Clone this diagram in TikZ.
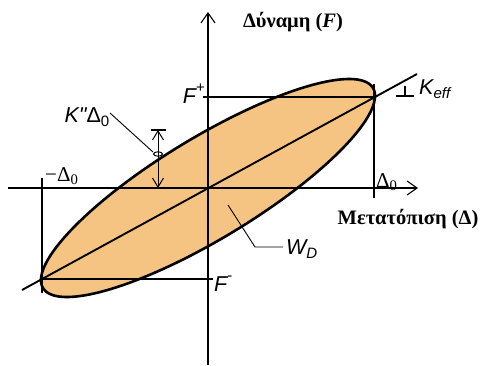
\documentclass[tikz,border=0pt]{standalone}
\usepackage{fontspec}
\setmainfont{Liberation Serif}
\newfontfamily\lsans{Liberation Sans}
\usetikzlibrary{arrows.meta}
\definecolor{loopfill}{RGB}{245,196,130}
\newcommand{\supsym}[1]{\raisebox{0.5em}{\upshape\fontsize{15}{15}\selectfont #1}}
\begin{document}
\begin{tikzpicture}[x=1pt,y=-1pt,
  thin line/.style={line width=1.1pt,black},
  axisline/.style={line width=1.1pt,black,-{Straight Barb[length=10pt,width=14pt,line width=1.1pt]}},
  dimarrow/.style={line width=1.0pt,black,-{Straight Barb[length=9pt,width=11pt,line width=1pt]}},
  loopline/.style={line width=2.6pt,black,fill=loopfill},
  diag/.style={line width=1.9pt,black},
  greeklab/.style={font=\fontsize{20.5}{24}\selectfont\bfseries,inner sep=0pt},
  symlab/.style={font=\lsans\itshape\fontsize{21.5}{24}\selectfont,inner sep=0pt},
  serlab/.style={font=\fontsize{21}{24}\selectfont,inner sep=0pt}]
\useasboundingbox (0,0) rectangle (484,365);
% key coordinates
\coordinate (O) at (208,188);
\coordinate (vbot) at (208,365);
\coordinate (vtop) at (208,12);
\coordinate (hleft) at (8,188);
\coordinate (hright) at (418,188);
\coordinate (P) at (374,97);
\coordinate (N) at (42,279);
\coordinate (dA) at (22,290);
\coordinate (dB) at (417,74);
% loop
\draw[loopline] plot[variable=\t,domain=0:360,samples=181]
  ({208+167*cos(\t)+3*sin(\t)},{188-91*cos(\t)-60*sin(\t)}) -- cycle;
% axes
\draw[thin line] (O) -- (vbot);
\draw[axisline] (O) -- (vtop);
\draw[axisline] (hleft) -- (hright);
% reference lines
\coordinate (dz0t) at (374,84);
\coordinate (dz0b) at (374,198);
\draw[thin line] (dz0t) -- (dz0b);
\coordinate (mdz0t) at (42,178);
\coordinate (mdz0b) at (42,293);
\draw[thin line] (mdz0t) -- (mdz0b);
\coordinate (fpl) at (203,97);
\draw[thin line] (fpl) -- (P);
\coordinate (fmr) at (213,279);
\draw[thin line] (N) -- (fmr);
% effective stiffness line
\draw[diag] (dA) -- (dB);
% slope mark
\coordinate (sm1) at (396,96);
\coordinate (sm2) at (414,96);
\coordinate (sm3) at (405,86);
\coordinate (sm4) at (405,96);
\draw[thin line] (sm1) -- (sm2);
\draw[thin line] (sm3) -- (sm4);
% K'' Delta0 dimension
\coordinate (barL) at (151,130);
\coordinate (barR) at (166,130);
\coordinate (barM) at (158,130);
\coordinate (ovl) at (158,154);
\coordinate (axm) at (158,188);
\draw[thin line] (barL) -- (barR);
\draw[dimarrow] (ovl) -- (barM);
\draw[dimarrow] (ovl) -- (axm);
\draw[line width=1pt] (ovl) ellipse [x radius=4.5pt,y radius=2.2pt];
\coordinate (kdl) at (110,113);
\coordinate (kdr) at (153,152);
\draw[line width=0.9pt] (kdl) -- (kdr);
% W_D leader
\coordinate (wd1) at (228,205);
\coordinate (wd2) at (255,247);
\coordinate (wd3) at (283,247);
\draw[line width=0.9pt] (wd1) -- (wd2) -- (wd3);
% labels
\node[greeklab] (force) at (293,22) {Δύναμη (\textit{F})};
\node[greeklab] (disp) at (408,219) {Μετατόπιση (Δ)};
\node[symlab,anchor=east] (fplus) at (205,94) {F\supsym{+}};
\node[symlab,anchor=west] (fminus) at (214,284) {F\supsym{-}};
\node[symlab,anchor=west] (keff) at (419,89) {K\textsubscript{eff}};
\node[symlab,anchor=east] (kdd) at (110,117) {K"\upshape Δ\textsubscript{0}};
\node[symlab,anchor=west] (wd) at (286,249) {W\textsubscript{D}};
\node[serlab,anchor=west] (dz) at (376,182) {Δ\textsubscript{0}};
\node[serlab,anchor=west] (mdz) at (45,176) {−Δ\textsubscript{0}};
\end{tikzpicture}
\end{document}
